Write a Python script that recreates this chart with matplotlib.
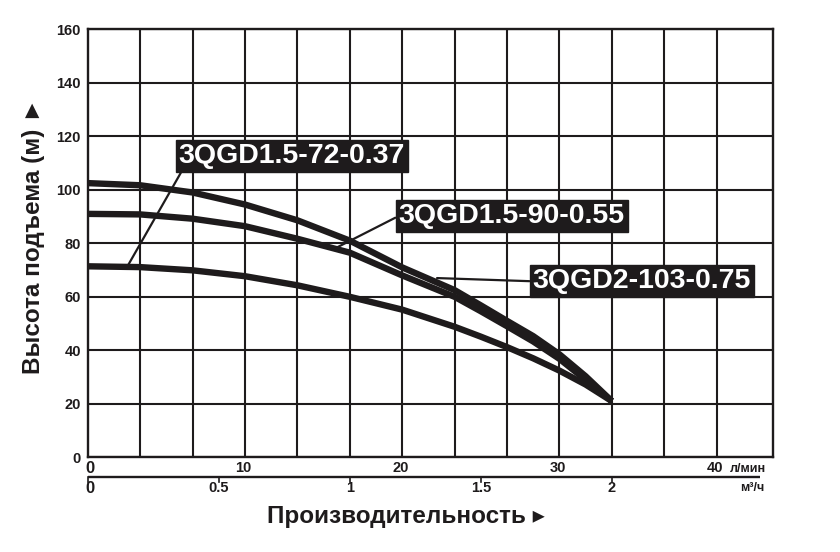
import numpy as np
import matplotlib
matplotlib.use("Agg")
import matplotlib.pyplot as plt
from matplotlib.transforms import blended_transform_factory

# ---------------- data ----------------
flow_m3h = [0.0, 0.2, 0.4, 0.6, 0.8, 1.0, 1.2, 1.4, 1.5, 1.6, 1.7, 1.8, 1.9, 2.0]
head_103 = [102.5, 101.7, 99.0, 94.5, 88.6, 81.0, 71.0, 62.5, 56.8, 51.0, 45.3, 38.5, 30.3, 21.0]
head_90 = [91.0, 90.8, 89.2, 86.4, 81.7, 76.5, 68.0, 60.0, 54.6, 49.0, 43.3, 36.8, 29.0, 21.0]
head_72 = [71.4, 71.1, 69.9, 67.7, 64.3, 60.0, 55.2, 48.8, 45.1, 41.2, 37.0, 32.4, 27.2, 21.0]

model_names = ["3QGD1.5-72-0.37", "3QGD1.5-90-0.55", "3QGD2-103-0.75"]

y_ticks = [0, 20, 40, 60, 80, 100, 120, 140, 160]
lpm_ticks = [0, 10, 20, 30, 40]
m3h_ticks = [0, 0.5, 1, 1.5, 2]
m3h_labels = ["0", "0.5", "1", "1.5", "2"]
grid_step_m3h = 0.2

y_title = "Высота подъема (м) ►"
x_title = "Производительность ▸"
lpm_unit = "л/мин"
m3h_unit = "м³/ч"

# ---------------- style ----------------
INK = "#1e1b1c"
FONT = ["Liberation Sans", "DejaVu Sans"]
plt.rcParams["font.family"] = FONT

W, H = 840, 552
fig = plt.figure(figsize=(W / 100, H / 100), dpi=100)
fig.patch.set_facecolor("white")

x0, x1, y_top, y_bot = 87.7, 773.0, 29.3, 457.3
ax = fig.add_axes([x0 / W, 1 - y_bot / H, (x1 - x0) / W, (y_bot - y_top) / H])
ax.set_xlim(0, 2.615)
ax.set_ylim(0, 160)

# grid
ax.set_xticks(np.round(np.arange(grid_step_m3h, 2.5, grid_step_m3h), 2))
ax.set_yticks(y_ticks)
ax.set_yticklabels([str(v) for v in y_ticks], fontsize=10.5, fontweight="bold", color=INK)
ax.tick_params(axis="x", length=0, labelbottom=False)
ax.tick_params(axis="y", length=0, pad=5)
ax.grid(True, color=INK, lw=1.5)
ax.set_axisbelow(True)
for s in ax.spines.values():
    s.set_color(INK)
    s.set_linewidth(1.7)

# curves
for h in (head_103, head_90, head_72):
    ax.plot(flow_m3h, h, color=INK, lw=4.6, solid_capstyle="butt",
            solid_joinstyle="round", zorder=3)

# labels with leader lines
label_specs = [
    # (text, anchor point on curve, box centre, relpos)
    (model_names[0], (0.154, 71.8), (0.778, 112.6), (0.02, 0.0)),
    (model_names[1], (0.944, 78.1), (1.618, 90.2), (0.0, 0.5)),
    (model_names[2], (1.333, 67.0), (2.115, 65.8), (0.0, 0.5)),
]
for txt, xy, xyt, rp in label_specs:
    ax.annotate(txt, xy=xy, xytext=xyt, textcoords="data",
                ha="center", va="center", color="white",
                fontsize=20.5, fontweight="bold", zorder=5,
                bbox=dict(boxstyle="square,pad=0.1", fc=INK, ec=INK),
                arrowprops=dict(arrowstyle="-", color=INK, lw=1.6,
                                shrinkA=0, shrinkB=0, relpos=rp))

# lower scales
tr = blended_transform_factory(ax.transData, fig.transFigure)
row1_y = 1 - 468.3 / H
row2_y = 1 - 488.3 / H
sep_y = 1 - 476.7 / H

for v in lpm_ticks:
    xv = v * 0.06  # l/min -> m3/h
    fig.text(xv + (0.008 if v == 0 else -0.006), row1_y, str(v), transform=tr,
             ha="center", va="center", fontsize=10.5 if v else 12,
             fontweight="bold", color=INK)
fig.text(2.452, row1_y - 0.002, lpm_unit, transform=tr, ha="left", va="center",
         fontsize=9, fontweight="bold", color=INK)

ax.plot([0, 2.566], [sep_y, sep_y], transform=tr, color=INK, lw=1.7,
        clip_on=False, solid_capstyle="butt")
for v in m3h_ticks:
    ax.plot([v, v], [sep_y, sep_y - 5 / H], transform=tr, color=INK, lw=1.2,
            clip_on=False)

for v, lab in zip(m3h_ticks, m3h_labels):
    fig.text(v + (0.008 if v == 0 else 0.0), row2_y, lab, transform=tr,
             ha="center", va="center", fontsize=10.5 if v else 12,
             fontweight="bold", color=INK)
fig.text(2.49, row2_y, m3h_unit, transform=tr, ha="left", va="center",
         fontsize=9, fontweight="bold", color=INK)

# axis titles
fig.text(406 / W, 1 - 517 / H, x_title, ha="center", va="center",
         fontsize=17.5, fontweight="bold", color=INK)
fig.text(34 / W, 1 - 236 / H, y_title, ha="center", va="center",
         rotation=90, fontsize=17.5, fontweight="bold", color=INK)

fig.savefig("out.png", dpi=100, facecolor="white")
